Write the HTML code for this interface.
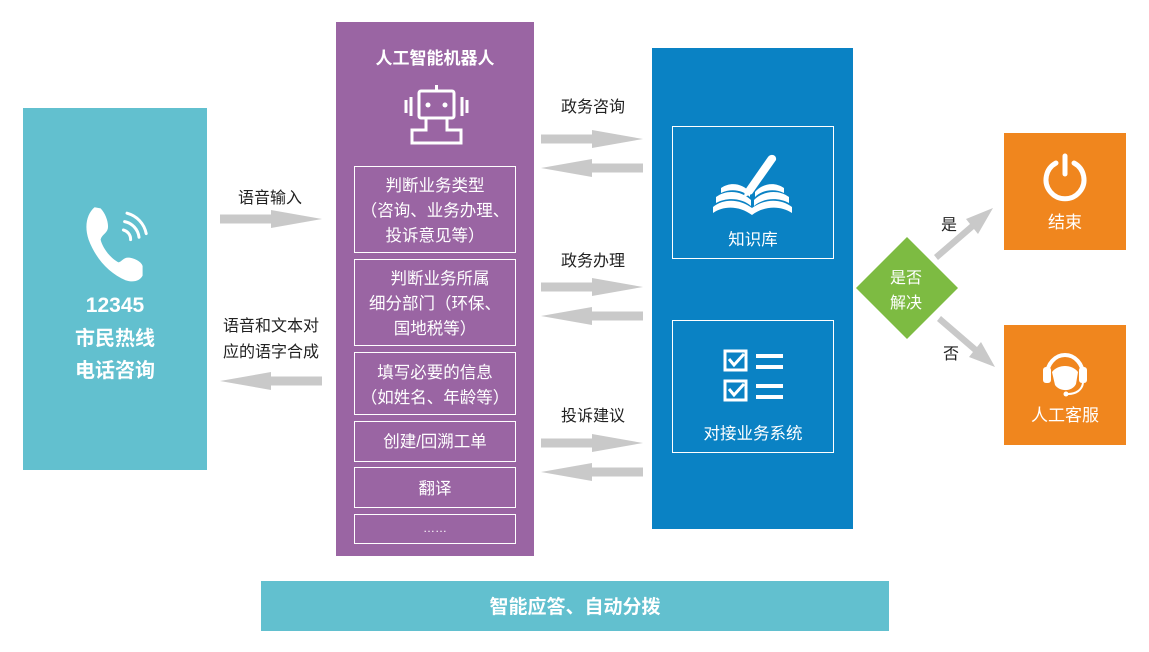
<!DOCTYPE html>
<html><head><meta charset="utf-8">
<style>
html,body{margin:0;padding:0;background:#fff;}
svg{display:block;}
text{font-family:"Liberation Sans","Noto Sans CJK SC",sans-serif;}
</style></head>
<body>
<svg width="1149" height="652" viewBox="0 0 1149 652" xmlns="http://www.w3.org/2000/svg">
<defs>
<g id="ar"><polygon points="0,-4.5 51,-4.5 51,-9 102,0 51,9 51,4.5 0,4.5" fill="#c9c9c9"/></g>
<g id="al"><polygon points="102,-4.5 51,-4.5 51,-9 0,0 51,9 51,4.5 102,4.5" fill="#c9c9c9"/></g>
</defs>

<!-- teal left -->
<rect x="23" y="108" width="184" height="362" fill="#62c0cf"/>
<g transform="translate(115,242) scale(1.2) translate(-115,-242)">
<g fill="#fff">
<path d="M98 213 C92 218 89 228 93 240 C99 256 110 268 124 274 C131 276 136 274 138 270 L138 262 C137 258 130 255 126 255 C122 255 121 258 118 259 C112 256 105 248 103 240 C104 236 108 235 109 231 C110 226 107 218 103 214 Z"/>
</g>
<g stroke="#fff" stroke-width="2.5" fill="none" stroke-linecap="round">
<path d="M122 232 A8 8 0 0 1 128 240"/>
<path d="M123 225 A15 15 0 0 1 135 238"/>
<path d="M125 218 A22 22 0 0 1 141 235"/>
</g>
</g>
<text x="115" y="312" font-size="21" font-weight="bold" fill="#fff" text-anchor="middle">12345</text>
<text x="115" y="345" font-size="20" font-weight="bold" fill="#fff" text-anchor="middle">市民热线</text>
<text x="115" y="377" font-size="20" font-weight="bold" fill="#fff" text-anchor="middle">电话咨询</text>

<!-- left arrows -->
<text x="270" y="203" font-size="16" fill="#222" text-anchor="middle">语音输入</text>
<use href="#ar" x="220" y="219"/>
<text x="271" y="331" font-size="16" fill="#222" text-anchor="middle">语音和文本对</text>
<text x="271" y="357" font-size="16" fill="#222" text-anchor="middle">应的语字合成</text>
<use href="#al" x="220" y="381"/>

<!-- purple -->
<rect x="336" y="22" width="198" height="534" fill="#9a65a3"/>
<text x="435" y="64" font-size="17" font-weight="bold" fill="#fff" text-anchor="middle">人工智能机器人</text>
<g stroke="#fff" stroke-width="3" fill="none">
<rect x="419" y="91" width="35" height="27" rx="2"/>
<line x1="436.5" y1="85" x2="436.5" y2="91"/>
<polyline points="426,118 426,130 412,130 412,143 461,143 461,130 447,130 447,118"/>
<line x1="406" y1="100" x2="406" y2="113"/>
<line x1="411" y1="97" x2="411" y2="116"/>
<line x1="462" y1="97" x2="462" y2="116"/>
<line x1="467" y1="100" x2="467" y2="113"/>
</g>
<circle cx="428" cy="105" r="2.5" fill="#fff"/><circle cx="445" cy="105" r="2.5" fill="#fff"/>
<g stroke="#fff" stroke-width="1" fill="none">
<rect x="354.5" y="166.5" width="161" height="86"/>
<rect x="354.5" y="259.5" width="161" height="86"/>
<rect x="354.5" y="352.5" width="161" height="62"/>
<rect x="354.5" y="421.5" width="161" height="40"/>
<rect x="354.5" y="467.5" width="161" height="40"/>
<rect x="354.5" y="514.5" width="161" height="29"/>
</g>
<g font-size="16.5" fill="#fff" text-anchor="middle">
<text x="435" y="191">判断业务类型</text>
<text x="435" y="216">（咨询、业务办理、</text>
<text x="435" y="241">投诉意见等）</text>
<text x="440" y="284">判断业务所属</text>
<text x="435" y="309">细分部门（环保、</text>
<text x="435" y="334">国地税等）</text>
<text x="435" y="378">填写必要的信息</text>
<text x="435" y="403">（如姓名、年龄等）</text>
<text x="435" y="447">创建/回溯工单</text>
<text x="435" y="494">翻译</text>
<text x="435" y="532" font-size="12">……</text>
</g>

<!-- middle arrows -->
<g font-size="16" fill="#222" text-anchor="middle">
<text x="593" y="112">政务咨询</text>
<text x="593" y="266">政务办理</text>
<text x="593" y="421">投诉建议</text>
</g>
<use href="#ar" x="541" y="139"/>
<use href="#al" x="541" y="168"/>
<use href="#ar" x="541" y="287"/>
<use href="#al" x="541" y="316"/>
<use href="#ar" x="541" y="443"/>
<use href="#al" x="541" y="472"/>

<!-- blue -->
<rect x="652" y="48" width="201" height="481" fill="#0a82c4"/>
<g stroke="#fff" stroke-width="1" fill="none">
<rect x="672.5" y="126.5" width="161" height="132"/>
<rect x="672.5" y="320.5" width="161" height="132"/>
</g>
<!-- book -->
<g fill="#fff">
<path d="M713 207 C724 198 740 199 752 208 C764 199 780 198 792 207 L792 213 C780 205 764 206 752 215 C740 206 724 205 713 213 Z"/>
<path d="M716 197 C727 189 742 191 751 200 L751 206 C742 198 727 197 716 203 Z"/>
<path d="M789 197 C778 189 763 191 754 200 L754 206 C763 198 778 197 789 203 Z"/>
<path d="M721 188 C731 181 743 184 750 192 L750 197 C743 190 731 188 721 193 Z"/>
<path d="M784 188 C774 181 762 184 755 192 L755 197 C762 190 774 188 784 193 Z"/>
<path d="M745 190 L768 157 C771 153 777 155 776 160 L752 194 L744 197 Z"/>
</g>
<text x="753" y="245" font-size="16.5" fill="#fff" text-anchor="middle">知识库</text>
<!-- checklist -->
<g stroke="#fff" stroke-width="3" fill="none">
<rect x="725" y="351" width="21" height="19"/>
<rect x="725" y="381" width="21" height="19"/>
<polyline points="729,359 734,365 744,354"/>
<polyline points="729,389 734,395 744,384"/>
</g>
<g fill="#fff">
<rect x="756" y="354" width="27" height="4"/><rect x="756" y="365" width="27" height="4"/>
<rect x="756" y="384" width="27" height="4"/><rect x="756" y="395" width="27" height="4"/>
</g>
<text x="753" y="439" font-size="16.5" fill="#fff" text-anchor="middle">对接业务系统</text>

<!-- diamond -->
<polygon points="907,237 958,288 907,339 856,288" fill="#7dbb42"/>
<text x="906" y="283" font-size="16" fill="#fff" text-anchor="middle">是否</text>
<text x="906" y="308" font-size="16" fill="#fff" text-anchor="middle">解决</text>
<!-- diagonal arrows -->
<g fill="#c9c9c9">
<polygon points="934,255 970,224 966,219 993,208 978,234 974,229 938,260"/>
<polygon points="937,321 973,352 969,357 995,367 981,342 977,347 941,316"/>
</g>
<text x="949" y="230" font-size="16" fill="#222" text-anchor="middle">是</text>
<text x="951" y="359" font-size="16" fill="#222" text-anchor="middle">否</text>

<!-- orange -->
<rect x="1004" y="133" width="122" height="117" fill="#f0861e"/>
<rect x="1004" y="325" width="122" height="120" fill="#f0861e"/>
<g stroke="#fff" stroke-width="5" fill="none" stroke-linecap="round">
<path d="M1056 163 A19 19 0 1 0 1074 163"/>
<line x1="1065" y1="156" x2="1065" y2="174"/>
</g>
<text x="1065" y="228" font-size="17" fill="#fff" text-anchor="middle">结束</text>
<g fill="none" stroke="#fff" stroke-width="4">
<path d="M1047 375 A18 20 0 0 1 1083 375"/>
</g>
<rect x="1043" y="367" width="8" height="16" rx="3" fill="#fff"/>
<rect x="1079" y="367" width="8" height="16" rx="3" fill="#fff"/>
<path d="M1052 372 C1058 364 1072 364 1078 372 L1076 384 C1072 392 1060 392 1055 385 Z" fill="#fff"/>
<path d="M1083 383 C1082 390 1076 394 1068 394" stroke="#fff" stroke-width="2" fill="none"/>
<circle cx="1066" cy="394" r="2.5" fill="#fff"/>
<text x="1065" y="421" font-size="17" fill="#fff" text-anchor="middle">人工客服</text>

<!-- bottom bar -->
<rect x="261" y="581" width="628" height="50" fill="#62c0cf"/>
<text x="575" y="613" font-size="19" font-weight="bold" fill="#fff" text-anchor="middle">智能应答、自动分拨</text>
</svg>
</body></html>
